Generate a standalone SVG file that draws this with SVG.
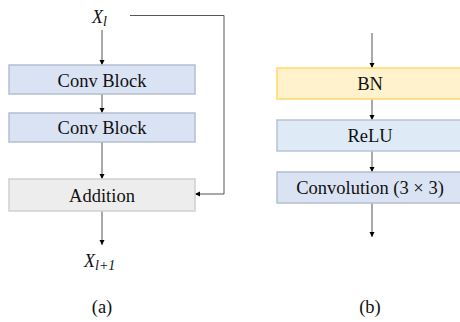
<svg xmlns="http://www.w3.org/2000/svg" width="460" height="322" viewBox="0 0 460 322">
<defs>
<marker id="ah" markerWidth="6" markerHeight="6" refX="5" refY="3" orient="auto" markerUnits="userSpaceOnUse">
<path d="M0,0.5 L5,3 L0,5.5 Z" fill="#000"/>
</marker>
<style>
text{font-family:'Liberation Serif',serif}
.t{font-size:18.5px;fill:#111;text-anchor:middle}
.m{font-style:italic;fill:#111}
.ln{fill:none;stroke:#555;stroke-width:1}
.ar{marker-end:url(#ah)}
.blue{fill:#dae3f3;stroke:#b4bfd0;stroke-width:1.5}
.relu{fill:#deebf7;stroke:#b8c4d2;stroke-width:1.5}
.yel{fill:#fff2cc;stroke:#ffd966;stroke-width:1.5}
.gray{fill:#ededed;stroke:#cfcfcf;stroke-width:1.5}
</style>
</defs>
<rect width="460" height="322" fill="#fff"/>
<g id="connectors">
<line class="ln ar" x1="102" y1="30" x2="102" y2="65"/>
<line class="ln ar" x1="102" y1="94" x2="102" y2="113"/>
<line class="ln ar" x1="102" y1="142" x2="102" y2="179"/>
<line class="ln ar" x1="102" y1="211" x2="102" y2="245"/>
<polyline class="ln ar" points="130,15.5 224,15.5 224,194 195,194"/>
<line class="ln ar" x1="372" y1="33" x2="372" y2="68"/>
<line class="ln ar" x1="372" y1="99" x2="372" y2="120"/>
<line class="ln ar" x1="372" y1="151" x2="372" y2="172"/>
<line class="ln ar" x1="372" y1="203" x2="372" y2="237"/>
</g>
<g id="xl"><text class="m" x="92" y="23" font-size="18">X<tspan font-size="14" dy="3">l</tspan></text></g>
<g id="conv1"><rect class="blue" x="9" y="65" width="186" height="29"/><text class="t" x="102" y="87">Conv Block</text></g>
<g id="conv2"><rect class="blue" x="9" y="113" width="186" height="29"/><text class="t" x="102" y="134">Conv Block</text></g>
<g id="addition"><rect class="gray" x="9" y="179" width="186" height="32"/><text class="t" x="102" y="202">Addition</text></g>
<g id="xl1"><text class="m" x="84" y="267" font-size="18">X<tspan font-size="14" dy="3">l+1</tspan></text></g>
<g id="bn"><rect class="yel" x="277" y="68" width="190" height="31"/><text class="t" x="370" y="90">BN</text></g>
<g id="relu"><rect class="relu" x="277" y="120" width="190" height="31"/><text class="t" x="370" y="142">ReLU</text></g>
<g id="convolution"><rect class="blue" x="277" y="172" width="190" height="31"/><text class="t" x="370" y="194">Convolution (3 × 3)</text></g>
<text class="t" x="102" y="313">(a)</text>
<text class="t" x="370" y="313">(b)</text>
</svg>
